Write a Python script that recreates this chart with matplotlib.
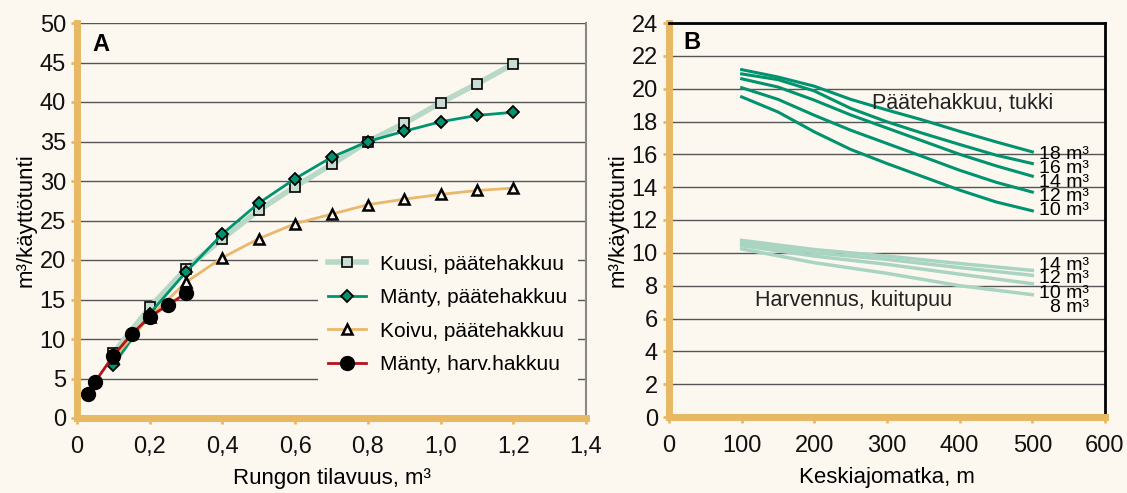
import matplotlib
matplotlib.use("Agg")
import matplotlib.pyplot as plt

plt.rcParams['font.family'] = ['Liberation Sans', 'DejaVu Sans']

BG = '#fcf8f0'
ORANGE = '#e8b864'
TEAL = '#00936e'
PALE = '#a9d4c2'

# --- Panel A data ---
kuusi_x = [0.1, 0.2, 0.3, 0.4, 0.5, 0.6, 0.7, 0.8, 0.9, 1.0, 1.1, 1.2]
kuusi_y = [8.2, 14.0, 18.9, 22.7, 26.3, 29.3, 32.1, 35.0, 37.3, 39.9, 42.3, 44.8]
manty_x = [0.1, 0.2, 0.3, 0.4, 0.5, 0.6, 0.7, 0.8, 0.9, 1.0, 1.1, 1.2]
manty_y = [6.7, 13.2, 18.5, 23.3, 27.2, 30.3, 33.0, 35.0, 36.3, 37.5, 38.3, 38.7]
koivu_x = [0.1, 0.2, 0.3, 0.4, 0.5, 0.6, 0.7, 0.8, 0.9, 1.0, 1.1, 1.2]
koivu_y = [7.6, 12.8, 17.2, 20.3, 22.7, 24.6, 25.8, 27.0, 27.7, 28.3, 28.8, 29.1]
harv_x = [0.03, 0.05, 0.1, 0.15, 0.2, 0.25, 0.3]
harv_y = [3.0, 4.6, 7.9, 10.6, 12.8, 14.3, 15.8]

# --- Panel B data ---
dist_paate = [100, 150, 200, 250, 300, 350, 400, 450, 500]
paate = {
    '18 m³': [21.16, 20.71, 20.15, 19.35, 18.70, 18.08, 17.40, 16.76, 16.15],
    '16 m³': [20.90, 20.55, 19.86, 18.80, 17.98, 17.27, 16.60, 15.95, 15.44],
    '14 m³': [20.60, 20.10, 19.30, 18.40, 17.60, 16.80, 16.00, 15.30, 14.67],
    '12 m³': [20.06, 19.35, 18.38, 17.47, 16.66, 15.85, 15.03, 14.30, 13.70],
    '10 m³': [19.50, 18.58, 17.37, 16.30, 15.44, 14.63, 13.82, 13.10, 12.56],
}
paate_label_y = [16.0, 15.15, 14.3, 13.45, 12.55]

dist_harv = [100, 200, 300, 400, 500]
harv = {
    '14 m³': [10.76, 10.20, 9.80, 9.35, 8.93],
    '12 m³': [10.60, 10.00, 9.60, 9.10, 8.63],
    '10 m³': [10.44, 9.80, 9.30, 8.70, 8.12],
    '8 m³': [10.24, 9.40, 8.75, 8.00, 7.45],
}
harv_label_y = [9.25, 8.45, 7.55, 6.7]

fig = plt.figure(figsize=(11.27, 4.93), dpi=100, facecolor=BG)


def style_axes(ax):
    ax.set_facecolor(BG)
    for s in ('left', 'bottom'):
        ax.spines[s].set_color(ORANGE)
        ax.spines[s].set_linewidth(5)
    ax.tick_params(colors=ORANGE, width=2, length=4, labelsize=17,
                   labelcolor='#111111', pad=4)
    ax.tick_params(axis='x', pad=9)
    ax.grid(axis='y', color='#555555', lw=1)
    ax.set_axisbelow(True)


# ---------- Panel A ----------
axA = fig.add_axes([77/1127, 1-418/493, (586-77)/1127, (418-23)/493])
style_axes(axA)
axA.spines['top'].set_visible(False)
axA.spines['right'].set_color('#888888')
axA.spines['right'].set_linewidth(1.5)

axA.plot(kuusi_x, kuusi_y, color='#b8d9c8', lw=4, marker='s', ms=6.5,
         mfc='#c9ddd2', mec='black', mew=1.2, label='Kuusi, päätehakkuu')
axA.plot(manty_x, manty_y, color=TEAL, lw=2, marker='D', ms=6,
         mfc=TEAL, mec='black', mew=1.3, label='Mänty, päätehakkuu')
axA.plot(koivu_x, koivu_y, color='#e9b86c', lw=2, marker='^', ms=7.5,
         mfc=BG, mec='black', mew=1.8, label='Koivu, päätehakkuu')
axA.plot(harv_x, harv_y, color='#b5121b', lw=2, marker='o', ms=10,
         mfc='black', mec='black', label='Mänty, harv.hakkuu')

axA.set_xlim(0, 1.4)
axA.set_ylim(0, 50)
axA.set_xticks([0, 0.2, 0.4, 0.6, 0.8, 1.0, 1.2, 1.4])
axA.set_xticklabels(['0', '0,2', '0,4', '0,6', '0,8', '1,0', '1,2', '1,4'])
axA.set_yticks(range(0, 51, 5))
axA.set_xlabel('Rungon tilavuus, m³', fontsize=16, labelpad=7)
axA.set_ylabel('m³/käyttötunti', fontsize=16, labelpad=2)
axA.text(0.03, 0.945, 'A', transform=axA.transAxes, fontsize=17,
         fontweight='bold', va='center', ha='left')

leg = axA.legend(loc='upper left', bbox_to_anchor=(0.473, 0.44),
                 borderaxespad=0, fontsize=15, frameon=True,
                 facecolor=BG, edgecolor='none', framealpha=1,
                 handlelength=1.8, handletextpad=0.7, labelspacing=0.7,
                 borderpad=0.5, fancybox=False)

# ---------- Panel B ----------
axB = fig.add_axes([669/1127, 1-417/493, (1105-669)/1127, (417-23)/493])
style_axes(axB)
for s in ('top', 'right'):
    axB.spines[s].set_color('black')
    axB.spines[s].set_linewidth(2)

for (lab, vals), ly in zip(paate.items(), paate_label_y):
    axB.plot(dist_paate, vals, color=TEAL, lw=2.2)
    axB.text(578, ly, lab, fontsize=14, ha='right', va='center')
for (lab, vals), ly in zip(harv.items(), harv_label_y):
    axB.plot(dist_harv, vals, color=PALE, lw=2.5)
    axB.text(578, ly, lab, fontsize=14, ha='right', va='center')

axB.text(280, 19.1, 'Päätehakkuu, tukki', fontsize=15.5, ha='left',
         va='center', color='#222222')
axB.text(118, 7.1, 'Harvennus, kuitupuu', fontsize=15.5, ha='left',
         va='center', color='#222222')

axB.set_xlim(0, 600)
axB.set_ylim(0, 24)
axB.set_xticks(range(0, 601, 100))
axB.set_yticks(range(0, 25, 2))
axB.set_xlabel('Keskiajomatka, m', fontsize=16, labelpad=7)
axB.set_ylabel('m³/käyttötunti', fontsize=16, labelpad=2)
axB.text(0.032, 0.95, 'B', transform=axB.transAxes, fontsize=17,
         fontweight='bold', va='center', ha='left')

fig.savefig('out.png', dpi=100, facecolor=BG)
